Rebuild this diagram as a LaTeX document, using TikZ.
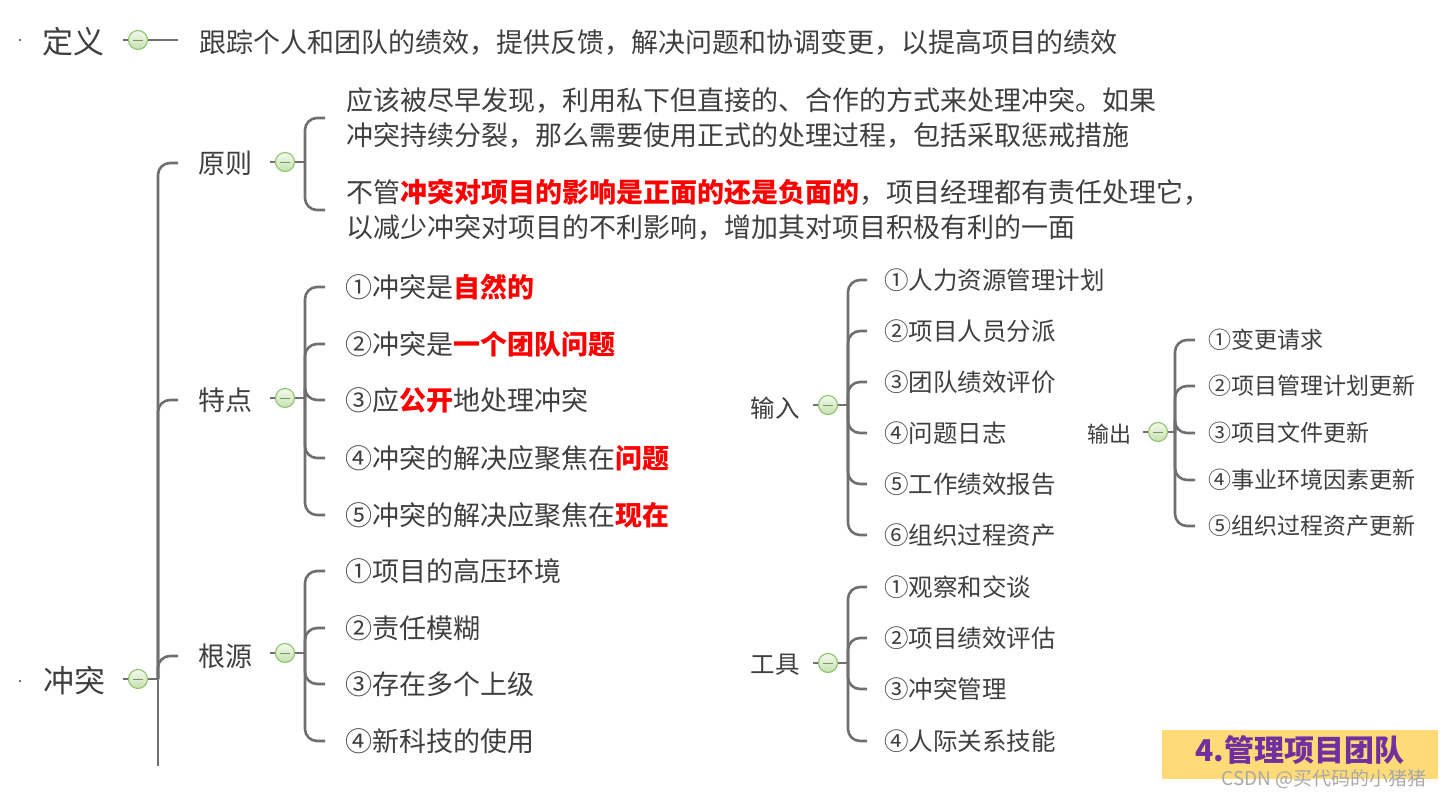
\documentclass[tikz,border=0pt]{standalone}
\usepackage{fontspec}
\newfontfamily\cjk{Noto Sans CJK SC}
\usetikzlibrary{calc}
\definecolor{txt}{HTML}{3F3F3F}
\definecolor{ln}{HTML}{6F6F6F}
\definecolor{tgline}{HTML}{8CC46A}
\definecolor{tgtop}{HTML}{F4F9EE}
\definecolor{tgbot}{HTML}{C6E0B2}
\definecolor{labelbg}{HTML}{FFDB78}
\definecolor{labeltx}{HTML}{7030A0}
\definecolor{wmark}{HTML}{A8A8A8}
\newcommand\hl[1]{{\bfseries\color{red}#1}}
\pgfdeclarelayer{bg}\pgfsetlayers{bg,main}
\tikzset{
  big/.style={inner sep=0, text=txt, font=\cjk\fontsize{31}{36}\selectfont},
  item/.style={anchor=west, inner sep=0, text=txt, font=\cjk\fontsize{27}{35}\selectfont},
  itemb/.style={anchor=west, inner sep=0, text=txt, font=\cjk\fontsize{24.5}{30}\selectfont},
  itemc/.style={anchor=west, inner sep=0, text=txt, font=\cjk\fontsize{23}{30}\selectfont},
  par/.style={inner sep=0, text=txt, font=\cjk\fontsize{24.5}{30}\selectfont},
  parc/.style={inner sep=0, text=txt, font=\cjk\fontsize{22}{30}\selectfont},
  tog/.style={circle, minimum size=19pt, inner sep=0, draw=tgline, line width=1.1pt,
    top color=tgtop, bottom color=tgbot,
    path picture={\draw[tgline!80!black, line width=0.9pt]
      ([xshift=-5pt]path picture bounding box.center) -- ([xshift=5pt]path picture bounding box.center);}},
  conn/.style={draw=ln, line width=2.6pt},
  br/.style={draw=ln, line width=2.6pt, rounded corners=12pt},
}
\begin{document}
\begin{tikzpicture}[x=1pt,y=-1pt]
\useasboundingbox (0,0) rectangle (1446,795);
\fill[txt] (20,40) circle (1.2);
\fill[txt] (20,681) circle (1.2);

% definition
\node[big] (dy) at (73,42) {定义};
\node[tog] (tdy) at (138,40) {};
\coordinate (edy) at (178,40);
\node[item] (dyt) at (199,42) {跟踪个人和团队的绩效，提供反馈，解决问题和协调变更，以提高项目的绩效};

% conflict root
\node[big] (ct) at (74,681) {冲突};
\node[tog] (tct) at (138,679) {};
\coordinate (jct) at (158,679);
\coordinate (ect) at (158,766);

% principles
\node[item] (yz) at (198,163) {原则};
\node[tog] (tyz) at (285,162) {};
\coordinate (jyz) at (305,162);
\node[item,align=left] (yz1) at (346,118) {应该被尽早发现，利用私下但直接的、合作的方式来处理冲突。如果\\冲突持续分裂，那么需要使用正式的处理过程，包括采取惩戒措施};
\node[item,align=left] (yz2) at (346,210) {不管\hl{冲突对项目的影响是正面的还是负面的}，项目经理都有责任处理它，\\以减少冲突对项目的不利影响，增加其对项目积极有利的一面};

% features
\node[item] (td) at (198,400) {特点};
\node[tog] (ttd) at (285,398) {};
\coordinate (jtd) at (305,398);
\node[item] (td1) at (345,287) {①冲突是\hl{自然的}};
\node[item] (td2) at (345,344) {②冲突是\hl{一个团队问题}};
\node[item] (td3) at (345,400) {③应\hl{公开}地处理冲突};
\node[item] (td4) at (345,458) {④冲突的解决应聚焦在\hl{问题}};
\node[item] (td5) at (345,515) {⑤冲突的解决应聚焦在\hl{现在}};

% sources
\node[item] (gy) at (198,656) {根源};
\node[tog] (tgy) at (285,653) {};
\coordinate (jgy) at (305,653);
\node[item] (gy1) at (345,571) {①项目的高压环境};
\node[item] (gy2) at (345,628) {②责任模糊};
\node[item] (gy3) at (345,684) {③存在多个上级};
\node[item] (gy4) at (345,741) {④新科技的使用};

% inputs
\node[par] (sr) at (775,408) {输入};
\node[tog] (tsr) at (828,405) {};
\coordinate (jsr) at (848,405);
\node[itemb] (sr1) at (884,280) {①人力资源管理计划};
\node[itemb] (sr2) at (884,331) {②项目人员分派};
\node[itemb] (sr3) at (884,382) {③团队绩效评价};
\node[itemb] (sr4) at (884,433) {④问题日志};
\node[itemb] (sr5) at (884,484) {⑤工作绩效报告};
\node[itemb] (sr6) at (884,535) {⑥组织过程资产};

% tools
\node[par] (gj) at (775,665) {工具};
\node[tog] (tgj) at (828,663) {};
\coordinate (jgj) at (848,663);
\node[itemb] (gj1) at (884,587) {①观察和交谈};
\node[itemb] (gj2) at (884,638) {②项目绩效评估};
\node[itemb] (gj3) at (884,689) {③冲突管理};
\node[itemb] (gj4) at (884,741) {④人际关系技能};

% outputs
\node[parc] (sc) at (1109,434) {输出};
\node[tog] (tsc) at (1158,432) {};
\coordinate (jsc) at (1175,432);
\node[itemc] (sc1) at (1208,340) {①变更请求};
\node[itemc] (sc2) at (1208,386) {②项目管理计划更新};
\node[itemc] (sc3) at (1208,433) {③项目文件更新};
\node[itemc] (sc4) at (1208,480) {④事业环境因素更新};
\node[itemc] (sc5) at (1208,526) {⑤组织过程资产更新};

% label
\node[fill=labelbg, minimum width=276pt, minimum height=49pt, anchor=north west, inner sep=0] (lb) at (1162,730) {};
\node[inner sep=0, text=labeltx, font=\cjk\bfseries\fontsize{30}{34}\selectfont] (lbt) at (1300,750) {4.管理项目团队};
\node[inner sep=0, text=wmark, font=\cjk\fontsize{19}{22}\selectfont] (wm) at (1324,779) {CSDN @买代码的小猪猪};

\begin{pgfonlayer}{bg}
\draw[conn] ([xshift=-5pt]tdy.west) -- (edy);
\draw[conn] ([xshift=-5pt]tct.west) -- (jct) -- (ect);
\foreach \n in {yz,td,gy} \draw[br] (jct) |- ([xshift=-20pt]\n.west);
\draw[conn] ([xshift=-5pt]tyz.west) -- (jyz);
\foreach \n in {yz1,yz2} \draw[br] (jyz) |- ([xshift=-21pt]\n.west);
\draw[conn] ([xshift=-5pt]ttd.west) -- (jtd);
\foreach \n in {td1,td2,td3,td4,td5} \draw[br] (jtd) |- ([xshift=-20pt]\n.west);
\draw[conn] ([xshift=-5pt]tgy.west) -- (jgy);
\foreach \n in {gy1,gy2,gy3,gy4} \draw[br] (jgy) |- ([xshift=-20pt]\n.west);
\draw[conn] ([xshift=-5pt]tsr.west) -- (jsr);
\foreach \n in {sr1,sr2,sr3,sr4,sr5,sr6} \draw[br] (jsr) |- ([xshift=-17pt]\n.west);
\draw[conn] ([xshift=-5pt]tgj.west) -- (jgj);
\foreach \n in {gj1,gj2,gj3,gj4} \draw[br] (jgj) |- ([xshift=-17pt]\n.west);
\draw[conn] ([xshift=-5pt]tsc.west) -- (jsc);
\foreach \n in {sc1,sc2,sc3,sc4,sc5} \draw[br] (jsc) |- ([xshift=-13pt]\n.west);
\end{pgfonlayer}
\end{tikzpicture}
\end{document}
